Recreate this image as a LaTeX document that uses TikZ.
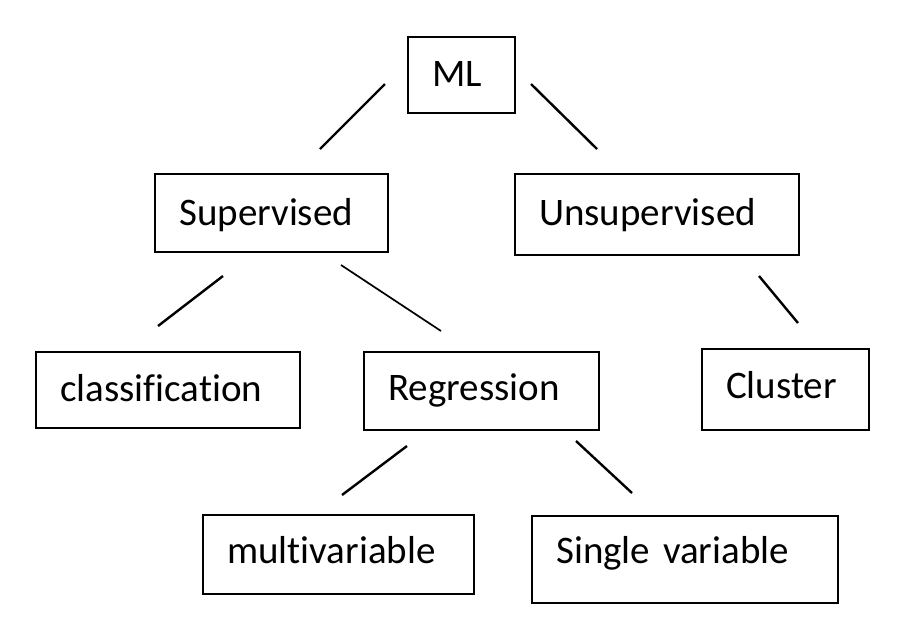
\documentclass[tikz,border=0pt]{standalone}
\usepackage{fontspec}
\setmainfont{Carlito}[Ligatures={NoCommon}]
\begin{document}
\begin{tikzpicture}[x=1pt,y=-1pt,
  tbox/.style={draw, line width=2.4pt, rectangle, anchor=north west,
    inner xsep=24pt, inner ysep=0pt, align=left,
    font=\fontsize{39}{47}\selectfont},
  link/.style={line width=2.4pt},
  thinlink/.style={line width=1.7pt}]
\useasboundingbox (0,0) rectangle (910,638);
% boxes
\node[tbox, text width=59pt,  text height=49pt, text depth=27pt] (ml)  at (407,36)  {ML};
\node[tbox, text width=185pt, text height=51pt, text depth=27pt] (sup) at (154,173) {Supervised};
\node[tbox, text width=236pt, text height=51pt, text depth=30pt] (uns) at (514,173) {Unsupervised};
\node[tbox, text width=216pt, text height=49pt, text depth=27pt] (cls) at (35,351)  {classification};
\node[tbox, text width=187pt, text height=48pt, text depth=30pt] (reg) at (363,351) {Regression};
\node[tbox, text width=119pt, text height=49pt, text depth=32pt] (clu) at (701,348) {Cluster};
\node[tbox, text width=223pt, text height=48pt, text depth=31pt] (mul) at (202,514) {multivariable};
\node[tbox, text width=258pt, text height=47pt, text depth=40pt] (sgl) at (531,515) {Single variable};
% connector end points
\coordinate (ml-l-a) at (385,84);  \coordinate (ml-l-b) at (320,149);
\coordinate (ml-r-a) at (531,84);  \coordinate (ml-r-b) at (597,149);
\coordinate (sup-l-a) at (223,276); \coordinate (sup-l-b) at (158,326);
\coordinate (sup-r-a) at (341,265); \coordinate (sup-r-b) at (441,331);
\coordinate (uns-a) at (759,276);  \coordinate (uns-b) at (798,323);
\coordinate (reg-l-a) at (407,446); \coordinate (reg-l-b) at (342,495);
\coordinate (reg-r-a) at (576,441); \coordinate (reg-r-b) at (632,493);
% connectors
\draw[link] (ml-l-a) -- (ml-l-b);
\draw[link] (ml-r-a) -- (ml-r-b);
\draw[link] (sup-l-a) -- (sup-l-b);
\draw[thinlink] (sup-r-a) -- (sup-r-b);
\draw[link] (uns-a) -- (uns-b);
\draw[link] (reg-l-a) -- (reg-l-b);
\draw[link] (reg-r-a) -- (reg-r-b);
\end{tikzpicture}
\end{document}
